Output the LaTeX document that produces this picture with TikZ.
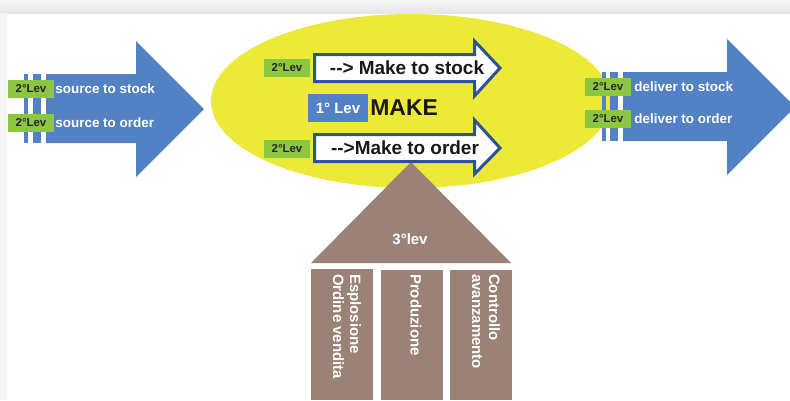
\documentclass[tikz,border=0pt]{standalone}
\usepackage{fontspec}
\setmainfont{Liberation Sans}
\usetikzlibrary{positioning}

\definecolor{scorblue}{RGB}{82,130,196}
\definecolor{levgreen}{RGB}{141,198,63}
\definecolor{makeyellow}{RGB}{236,233,56}
\definecolor{roofbrown}{RGB}{154,131,118}
\definecolor{rimblue}{RGB}{45,84,142}

% arrow text without the TeX dash ligature
\newcommand{\darr}{-\kern0pt-\kern0pt>}

\begin{document}
\begin{tikzpicture}[x=1bp,y=-1bp,
  lev/.style={fill=levgreen,text=black!85,inner sep=0pt,minimum width=46bp,minimum height=18bp,font=\bfseries\fontsize{11.5}{12}\selectfont},
  flow/.style={text=white,inner sep=0pt,font=\bfseries\fontsize{13.5}{15}\selectfont},
  maketext/.style={text=black!90,inner sep=0pt,font=\bfseries\fontsize{19}{21}\selectfont},
  pillartext/.style={text=white,rotate=-90,anchor=west,align=left,inner sep=0pt,font=\bfseries\fontsize{15}{17}\selectfont}]

  \useasboundingbox (0,0) rectangle (790,400);
  \shade[top color=gray!6,bottom color=gray!20] (0,0) rectangle (790,13);
  \fill[gray!8] (0,13) rectangle (7,400);

  \fill[makeyellow] (411,101) ellipse [x radius=200bp,y radius=87bp];

  % source
  \fill[scorblue] (46,74) -- (136,74) -- (136,41) -- (204,109) -- (136,177) -- (136,143) -- (46,143) -- cycle;
  \fill[scorblue] (24,74) rectangle (28,143);
  \fill[scorblue] (33,74) rectangle (41,143);
  \node[lev] (srclevA) at (31,89) {2°Lev};
  \node[lev] (srclevB) at (31,122.5) {2°Lev};
  \node[flow,right=1bp of srclevA] (srcstock) {source to stock};
  \node[flow,right=1bp of srclevB] (srcorder) {source to order};

  % deliver
  \fill[scorblue] (623,72) -- (727,72) -- (727,39) -- (795,107) -- (727,175) -- (727,141) -- (623,141) -- cycle;
  \fill[scorblue] (602,72) rectangle (606,141);
  \fill[scorblue] (610,72) rectangle (618,141);
  \node[lev] (dlvlevA) at (608,87) {2°Lev};
  \node[lev] (dlvlevB) at (608,119) {2°Lev};
  \node[flow,right=3bp of dlvlevA] (dlvstock) {deliver to stock};
  \node[flow,right=3bp of dlvlevB] (dlvorder) {deliver to order};

  % 3 lev
  \fill[roofbrown] (411,162) -- (511,263) -- (311,263) -- cycle;
  \node[text=white,font=\bfseries\fontsize{15}{17}\selectfont] (roof) at (410,239) {3°lev};
  \fill[roofbrown] (311,269) rectangle (373,400);
  \fill[roofbrown] (381,270) rectangle (443,400);
  \fill[roofbrown] (450,270) rectangle (512,400);
  \node[pillartext] (esplo) at (347,274) {Esplosione\\Ordine vendita};
  \node[pillartext] (produ) at (416,274) {Produzione};
  \node[pillartext] (contr) at (486,274) {Controllo\\avanzamento};

  % make
  \draw[rimblue,line width=3bp,fill=white] (314.5,54.5) -- (474.5,54.5) -- (474.5,41) -- (500,68) -- (474.5,96) -- (474.5,81.5) -- (314.5,81.5) -- cycle;
  \draw[rimblue,line width=3bp,fill=white] (314.5,134.5) -- (474.5,134.5) -- (474.5,120) -- (500,148) -- (474.5,174) -- (474.5,161.5) -- (314.5,161.5) -- cycle;
  \node[maketext] (mts) at (407,68) {\darr{} Make to stock};
  \node[maketext] (mto) at (405,148) {\darr Make to order};
  \node[lev] (makelevA) at (287,68) {2°Lev};
  \node[lev] (makelevB) at (287,149) {2°Lev};
  \node[fill=scorblue,text=white,inner sep=0pt,minimum width=60bp,minimum height=28bp,font=\bfseries\fontsize{15}{17}\selectfont] (first) at (338,108) {1° Lev};
  \node[text=black!90,inner sep=0pt,font=\bfseries\fontsize{23}{25}\selectfont,right=2bp of first] (make) {MAKE};

\end{tikzpicture}
\end{document}
